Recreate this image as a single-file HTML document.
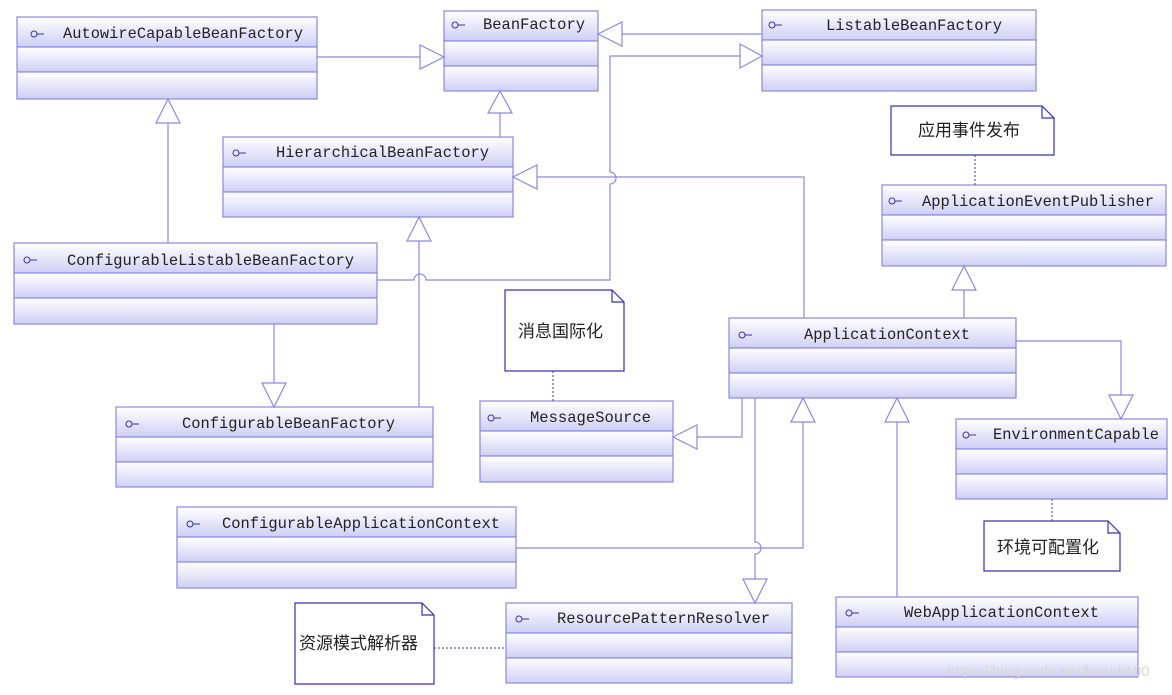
<!DOCTYPE html>
<html><head><meta charset="utf-8"><style>
html,body{margin:0;padding:0;background:#fff;}
</style></head><body>
<svg width="1172" height="690" xmlns="http://www.w3.org/2000/svg" font-family="'Liberation Mono','Noto Sans CJK SC',monospace">
<defs>
<linearGradient id="g" x1="0" y1="0" x2="0" y2="1"><stop offset="0" stop-color="#ffffff"/><stop offset="1" stop-color="#cfcff6"/></linearGradient>
<g id="ic"><circle cx="0" cy="0" r="3" fill="none" stroke="#3333aa" stroke-width="1"/><line x1="3" y1="0" x2="10" y2="0" stroke="#3333aa"/></g>
</defs>
<g fill="url(#g)" stroke="#8a8ae0" stroke-width="1.2">
<rect x="17" y="17" width="300" height="30"/><rect x="17" y="47" width="300" height="25"/><rect x="17" y="72" width="300" height="27"/>
<rect x="444" y="11" width="154" height="30"/><rect x="444" y="41" width="154" height="25"/><rect x="444" y="66" width="154" height="25"/>
<rect x="762" y="10" width="274" height="30"/><rect x="762" y="40" width="274" height="25"/><rect x="762" y="65" width="274" height="26"/>
<rect x="223" y="137" width="290" height="30"/><rect x="223" y="167" width="290" height="25"/><rect x="223" y="192" width="290" height="25"/>
<rect x="14" y="243" width="363" height="30"/><rect x="14" y="273" width="363" height="25"/><rect x="14" y="298" width="363" height="26"/>
<rect x="116" y="407" width="317" height="30"/><rect x="116" y="437" width="317" height="25"/><rect x="116" y="462" width="317" height="25"/>
<rect x="480" y="401" width="193" height="30"/><rect x="480" y="431" width="193" height="25"/><rect x="480" y="456" width="193" height="26"/>
<rect x="729" y="318" width="287" height="30"/><rect x="729" y="348" width="287" height="25"/><rect x="729" y="373" width="287" height="25"/>
<rect x="882" y="185" width="284" height="30"/><rect x="882" y="215" width="284" height="25"/><rect x="882" y="240" width="284" height="26"/>
<rect x="956" y="419" width="211" height="30"/><rect x="956" y="449" width="211" height="25"/><rect x="956" y="474" width="211" height="25"/>
<rect x="177" y="507" width="339" height="30"/><rect x="177" y="537" width="339" height="25"/><rect x="177" y="562" width="339" height="26"/>
<rect x="506" y="603" width="286" height="30"/><rect x="506" y="633" width="286" height="25"/><rect x="506" y="658" width="286" height="25"/>
<rect x="836" y="597" width="302" height="30"/><rect x="836" y="627" width="302" height="25"/><rect x="836" y="652" width="302" height="25"/>
</g>
<g fill="#fff" stroke="#3333bb" stroke-width="1.2">
<path d="M505 290 H612 L624 302 V371 H505 Z"/><path d="M612 290 V302 H624" fill="none"/>
<path d="M891 106 H1042 L1054 118 V155 H891 Z"/><path d="M1042 106 V118 H1054" fill="none"/>
<path d="M984 521 H1108 L1120 533 V571 H984 Z"/><path d="M1108 521 V533 H1120" fill="none"/>
<path d="M295 603 H422 L434 615 V684 H295 Z"/><path d="M422 603 V615 H434" fill="none"/>
</g>
<g stroke="#3333bb" stroke-width="1" stroke-dasharray="2,2" fill="none">
<line x1="553" y1="371" x2="553" y2="401"/>
<line x1="975" y1="155" x2="975" y2="185"/>
<line x1="1052" y1="499" x2="1052" y2="521"/>
<line x1="434" y1="648" x2="506" y2="648"/>
</g>
<g stroke="#8a8ae0" stroke-width="1.2" fill="none">
<line x1="317" y1="57" x2="420" y2="57"/>
<line x1="762" y1="34" x2="622" y2="34"/>
<line x1="500" y1="137" x2="500" y2="113"/>
<line x1="168" y1="243" x2="168" y2="123"/>
<path d="M377 280 H414 A6 6 0 0 1 426 280 H610 V184 A6 6 0 0 0 610 172 V56 H740"/>
<path d="M804 318 V177 H537"/>
<line x1="274" y1="324" x2="274" y2="383"/>
<path d="M419 407 V241"/>
<path d="M742 398 V437 H697"/>
<line x1="964" y1="318" x2="964" y2="290"/>
<path d="M1016 341 H1121 V395"/>
<path d="M516 548 H803 V422"/>
<path d="M755 398 V542 A6 6 0 0 1 755 554 V579"/>
<line x1="897" y1="597" x2="897" y2="422"/>
</g>
<g stroke="#8a8ae0" stroke-width="1.2" fill="#fff">
<path d="M444 57 L420 45 L420 69 Z"/>
<path d="M598 34 L622 22 L622 46 Z"/>
<path d="M500 91 L488 113 L512 113 Z"/>
<path d="M168 99 L156 123 L180 123 Z"/>
<path d="M762 56 L740 44 L740 68 Z"/>
<path d="M513 177 L537 165 L537 189 Z"/>
<path d="M274 407 L262 383 L286 383 Z"/>
<path d="M419 217 L407 241 L431 241 Z"/>
<path d="M673 437 L697 425 L697 449 Z"/>
<path d="M964 266 L952 290 L976 290 Z"/>
<path d="M1121 419 L1109 395 L1133 395 Z"/>
<path d="M803 398 L791 422 L815 422 Z"/>
<path d="M755 603 L743 579 L767 579 Z"/>
<path d="M897 398 L885 422 L909 422 Z"/>
</g>
<use href="#ic" x="34" y="34"/><use href="#ic" x="455" y="25"/><use href="#ic" x="772" y="25"/>
<use href="#ic" x="236" y="153"/><use href="#ic" x="27" y="260"/><use href="#ic" x="129" y="424"/>
<use href="#ic" x="491" y="418"/><use href="#ic" x="742" y="335"/><use href="#ic" x="892" y="201"/>
<use href="#ic" x="966" y="435"/><use href="#ic" x="190" y="524"/><use href="#ic" x="519" y="619"/>
<use href="#ic" x="849" y="613"/>
<g fill="#222" font-size="16" lengthAdjust="spacingAndGlyphs">
<text x="63" y="38" textLength="240" lengthAdjust="spacingAndGlyphs">AutowireCapableBeanFactory</text>
<text x="483" y="29" textLength="102" lengthAdjust="spacingAndGlyphs">BeanFactory</text>
<text x="826" y="30" textLength="176" lengthAdjust="spacingAndGlyphs">ListableBeanFactory</text>
<text x="276" y="157" textLength="213" lengthAdjust="spacingAndGlyphs">HierarchicalBeanFactory</text>
<text x="67" y="265" textLength="287" lengthAdjust="spacingAndGlyphs">ConfigurableListableBeanFactory</text>
<text x="182" y="428" textLength="213" lengthAdjust="spacingAndGlyphs">ConfigurableBeanFactory</text>
<text x="530" y="422" textLength="121" lengthAdjust="spacingAndGlyphs">MessageSource</text>
<text x="804" y="339" textLength="166" lengthAdjust="spacingAndGlyphs">ApplicationContext</text>
<text x="922" y="206" textLength="232" lengthAdjust="spacingAndGlyphs">ApplicationEventPublisher</text>
<text x="993" y="439" textLength="166" lengthAdjust="spacingAndGlyphs">EnvironmentCapable</text>
<text x="222" y="528" textLength="278" lengthAdjust="spacingAndGlyphs">ConfigurableApplicationContext</text>
<text x="557" y="623" textLength="213" lengthAdjust="spacingAndGlyphs">ResourcePatternResolver</text>
<text x="904" y="617" textLength="195" lengthAdjust="spacingAndGlyphs">WebApplicationContext</text>
</g>
<g fill="#222" font-size="17" font-family="'Noto Sans CJK SC',sans-serif">
<text x="518" y="337">消息国际化</text>
<text x="918" y="136">应用事件发布</text>
<text x="997" y="553">环境可配置化</text>
<text x="299" y="649">资源模式解析器</text>
</g>
<text x="947" y="676" font-family="'Liberation Sans',sans-serif" font-size="15" fill="#d8d8d8">https://blog.csdn.net/kuaidi100</text>
</svg>
</body></html>
